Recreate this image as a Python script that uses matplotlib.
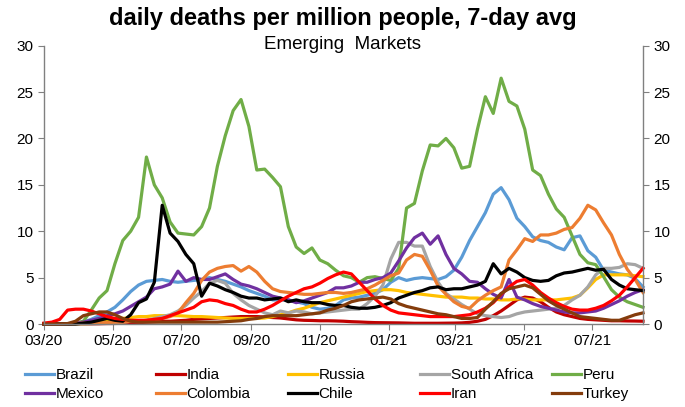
import matplotlib
matplotlib.use('Agg')
import matplotlib.pyplot as plt
import matplotlib.dates as mdates
import pandas as pd

plt.rcParams['font.family'] = ['Liberation Sans', 'DejaVu Sans']

# weekly points, 1 Mar 2020 -> mid Aug 2021
dates = pd.date_range('2020-03-01', periods=77, freq='7D')

brazil = [0, 0, 0, 0, 0, 0.2, 0.5, 0.9, 1.3, 1.8,
          2.6, 3.5, 4.2, 4.6, 4.7, 4.8, 4.6, 4.5, 4.6, 4.7,
          4.8, 5.0, 4.8, 4.6, 4.3, 4.0, 3.6, 3.3, 3.0, 2.6,
          2.6, 2.6, 2.4, 2.2, 1.8, 1.6, 1.7, 2.0, 2.6, 2.8,
          2.9, 3.1, 3.3, 3.7, 4.5, 5.0, 4.7, 4.9, 5.0, 4.9,
          4.8, 5.1, 5.8, 7.2, 9.0, 10.5, 12.0, 14.0, 14.7, 13.4,
          11.4, 10.5, 9.4, 9.0, 8.8, 8.3, 8.0, 9.3, 9.5, 7.9,
          7.2, 5.8, 5.6, 5.4, 5.3, 4.9, 4.0]
india = [0, 0, 0, 0, 0, 0.01, 0.02, 0.03, 0.05, 0.06,
         0.08, 0.1, 0.15, 0.2, 0.25, 0.3, 0.3, 0.35, 0.4, 0.5,
         0.55, 0.6, 0.65, 0.7, 0.75, 0.8, 0.8, 0.8, 0.75, 0.7,
         0.65, 0.55, 0.45, 0.4, 0.38, 0.35, 0.35, 0.33, 0.3, 0.25,
         0.22, 0.18, 0.15, 0.14, 0.13, 0.12, 0.1, 0.08, 0.08, 0.08,
         0.08, 0.09, 0.1, 0.12, 0.18, 0.3, 0.5, 0.9, 1.4, 2.0,
         2.6, 2.9, 2.8, 2.4, 1.8, 1.3, 1.0, 0.8, 0.6, 0.5,
         0.45, 0.4, 0.35, 0.35, 0.33, 0.32, 0.3]
russia = [0, 0, 0, 0, 0, 0.02, 0.05, 0.15, 0.3, 0.5,
          0.6, 0.7, 0.8, 0.8, 0.9, 0.9, 0.9, 0.9, 0.85, 0.8,
          0.8, 0.75, 0.7, 0.65, 0.6, 0.6, 0.6, 0.6, 0.65, 0.8,
          1.0, 1.2, 1.5, 1.7, 2.0, 2.3, 2.5, 2.7, 2.9, 3.1,
          3.3, 3.5, 3.6, 3.7, 3.7, 3.6, 3.4, 3.3, 3.2, 3.1,
          3.0, 2.9, 2.9, 2.9, 2.8, 2.8, 2.7, 2.7, 2.6, 2.6,
          2.7, 2.7, 2.6, 2.6, 2.6, 2.6, 2.7, 2.8, 3.1, 3.9,
          4.8, 5.3, 5.3, 5.3, 5.3, 5.2, 5.1]
south_africa = [0, 0, 0, 0, 0, 0.02, 0.03, 0.05, 0.1, 0.15,
                0.2, 0.3, 0.3, 0.4, 0.6, 0.8, 1.0, 1.4, 2.0, 2.8,
                3.5, 4.4, 4.7, 4.4, 3.3, 2.6, 2.0, 1.6, 1.2, 1.0,
                1.4, 1.2, 1.4, 1.3, 1.1, 1.2, 1.3, 1.4, 1.5, 1.6,
                1.6, 2.2, 3.0, 4.2, 7.0, 8.8, 8.8, 8.4, 8.4, 6.2,
                4.5, 3.3, 2.7, 2.1, 1.6, 1.1, 0.9, 0.8, 0.7, 0.8,
                1.1, 1.3, 1.4, 1.5, 1.6, 1.7, 2.0, 2.6, 3.1, 4.0,
                5.3, 6.0, 6.0, 6.1, 6.5, 6.4, 6.0]
peru = [0, 0, 0, 0, 0.1, 0.3, 1.5, 2.8, 3.6, 6.5,
        9.0, 10.0, 11.5, 18.0, 15.0, 13.6, 11.0, 9.8, 9.7, 9.6,
        10.5, 12.5, 17.0, 20.3, 23.0, 24.2, 21.3, 16.6, 16.7, 15.8,
        14.8, 10.5, 8.3, 7.6, 8.2, 6.9, 6.5, 5.8, 5.2, 5.0,
        4.5, 5.0, 5.1, 4.9, 4.7, 6.0, 12.5, 13.0, 16.5, 19.3,
        19.2, 20.0, 19.0, 16.8, 17.0, 21.0, 24.5, 22.7, 26.5, 24.0,
        23.5, 21.0, 16.6, 16.0, 14.0, 12.4, 11.5, 9.5, 7.5, 6.6,
        6.4, 5.1, 3.7, 2.9, 2.4, 2.1, 1.8]
mexico = [0, 0, 0, 0, 0.1, 0.2, 0.4, 0.6, 0.9, 1.1,
          1.4, 1.9, 2.4, 2.9, 3.8, 4.0, 4.3, 5.7, 4.6, 5.0,
          4.8, 4.8, 5.1, 5.4, 4.8, 4.3, 4.1, 3.8, 3.4, 3.0,
          2.8, 2.6, 2.3, 2.5, 2.8, 3.1, 3.4, 3.9, 3.9, 4.1,
          4.5, 4.5, 4.8, 5.0, 5.5, 6.8, 8.2, 9.3, 9.8, 8.6,
          9.5, 7.5, 6.0, 5.4, 4.6, 4.5, 3.8, 3.2, 2.8, 4.8,
          2.9, 2.6, 2.2, 1.9, 1.7, 1.5, 1.3, 1.2, 1.2, 1.3,
          1.4, 1.7, 2.1, 2.5, 3.0, 3.4, 3.7]
colombia = [0, 0, 0, 0, 0.05, 0.1, 0.1, 0.1, 0.15, 0.2,
            0.2, 0.3, 0.3, 0.4, 0.5, 0.6, 0.8, 1.2, 2.3, 3.3,
            4.7, 5.6, 6.0, 6.2, 6.3, 5.7, 6.2, 5.6, 4.6, 3.8,
            3.5, 3.4, 3.3, 3.2, 3.2, 3.3, 3.4, 3.4, 3.3, 3.4,
            3.6, 3.8, 4.2, 4.7, 5.2, 5.5, 6.9, 7.5, 7.3, 5.8,
            4.1, 3.2, 2.4, 1.9, 1.7, 2.5, 3.1, 3.6, 4.0, 6.9,
            8.0, 9.2, 8.9, 9.6, 9.6, 9.8, 10.2, 10.4, 11.4, 12.8,
            12.3, 10.9, 9.6, 7.5, 5.9, 4.8, 3.4]
chile = [0, 0, 0, 0, 0, 0.1, 0.2, 0.4, 0.6, 0.4,
         0.3, 1.0, 2.3, 2.7, 4.5, 12.8, 9.8, 8.9, 7.5, 6.5,
         3.0, 4.4, 4.1, 3.7, 3.4, 3.0, 2.8, 2.8, 2.6, 2.7,
         2.8, 2.4, 2.6, 2.4, 2.3, 2.3, 2.1, 2.0, 2.0, 1.8,
         1.7, 1.7, 1.8, 2.0, 2.3, 2.8, 3.1, 3.4, 3.6, 3.9,
         4.0, 3.7, 3.8, 3.8, 4.0, 4.2, 4.6, 6.5, 5.4, 6.0,
         5.6, 5.0, 4.7, 4.6, 4.7, 5.2, 5.5, 5.6, 5.8, 6.0,
         5.8, 5.9, 4.8, 4.2, 3.8, 3.7, 3.6]
iran = [0.1, 0.2, 0.5, 1.5, 1.6, 1.6, 1.4, 1.1, 0.8, 0.6,
        0.5, 0.4, 0.4, 0.4, 0.5, 0.6, 0.9, 1.2, 1.5, 1.8,
        2.4, 2.6, 2.5, 2.2, 2.0, 1.6, 1.3, 1.3, 1.6, 2.0,
        2.5, 3.0, 3.4, 3.8, 4.0, 4.4, 4.9, 5.3, 5.6, 5.4,
        4.5, 3.6, 2.7, 2.0, 1.5, 1.2, 1.1, 1.0, 0.9, 0.8,
        0.8, 0.8, 0.8, 0.9, 1.0, 1.3, 1.7, 2.3, 3.2, 4.0,
        4.6, 4.8, 4.2, 3.4, 2.8, 2.3, 1.9, 1.6, 1.5, 1.5,
        1.7, 2.0, 2.5, 3.1, 4.0, 5.0, 6.0]
turkey = [0, 0, 0, 0.05, 0.3, 0.9, 1.1, 1.3, 1.3, 1.0,
          0.6, 0.3, 0.2, 0.2, 0.2, 0.2, 0.2, 0.2, 0.2, 0.2,
          0.2, 0.2, 0.2, 0.25, 0.3, 0.35, 0.5, 0.6, 0.8, 0.9,
          0.9, 0.9, 0.9, 1.0, 1.1, 1.2, 1.5, 1.7, 2.0, 2.4,
          2.6, 2.7, 2.8, 2.9, 2.7, 2.2, 1.9, 1.7, 1.5, 1.3,
          1.1, 1.0, 0.8, 0.6, 0.6, 0.7, 1.6, 2.4, 3.3, 3.8,
          4.0, 4.2, 3.9, 3.2, 2.5, 2.0, 1.6, 1.2, 0.8, 0.7,
          0.6, 0.5, 0.4, 0.4, 0.7, 1.0, 1.2]

names = ['Brazil', 'India', 'Russia', 'South Africa', 'Peru',
         'Mexico', 'Colombia', 'Chile', 'Iran', 'Turkey']
series = [brazil, india, russia, south_africa, peru,
          mexico, colombia, chile, iran, turkey]
colors = ['#5B9BD5', '#C00000', '#FFC000', '#A5A5A5', '#70AD47',
          '#7030A0', '#ED7D31', '#000000', '#FF0000', '#843C0C']

fig = plt.figure(figsize=(6.85, 4.07), dpi=100)
ax = fig.add_axes([0.0642, 0.2039, 0.8745, 0.6838])

handles = []
for name, vals, c in zip(names, series, colors):
    h, = ax.plot(dates, vals, color=c, lw=2.3, label=name, clip_on=False)
    handles.append(h)

ax.set_ylim(0, 30)
ax.set_yticks(range(0, 31, 5))
ax.set_xlim(dates[0], dates[-1])
ax.xaxis.set_major_locator(mdates.MonthLocator(bymonth=[1, 3, 5, 7, 9, 11]))
ax.xaxis.set_major_formatter(mdates.DateFormatter('%m/%y'))

for s in ['left', 'right', 'bottom']:
    ax.spines[s].set_color('#808080')
    ax.spines[s].set_linewidth(1.0)
ax.spines['top'].set_visible(False)
ax.tick_params(axis='both', labelsize=11, color='#808080', length=4,
               direction='out', labelcolor='#000000')
ax.tick_params(axis='y', right=True, labelright=True)

fig.text(0.5, 0.955, 'daily deaths per million people, 7-day avg',
         ha='center', va='center', fontsize=17, fontweight='bold')
fig.text(0.5, 0.89, 'Emerging  Markets', ha='center', va='center', fontsize=13.5)

# legend: one small legend per column so columns sit at even spacing
col_x = [25, 156, 288, 420, 552]
for i, x in enumerate(col_x):
    fig.legend([handles[i], handles[i + 5]], [names[i], names[i + 5]],
               loc='upper left', bbox_to_anchor=(x / 685, 1 - 368 / 407),
               frameon=False, fontsize=11, handlelength=1.9,
               handletextpad=0.1, borderpad=0, borderaxespad=0,
               labelspacing=0.35)

fig.savefig('out.png', dpi=100)
